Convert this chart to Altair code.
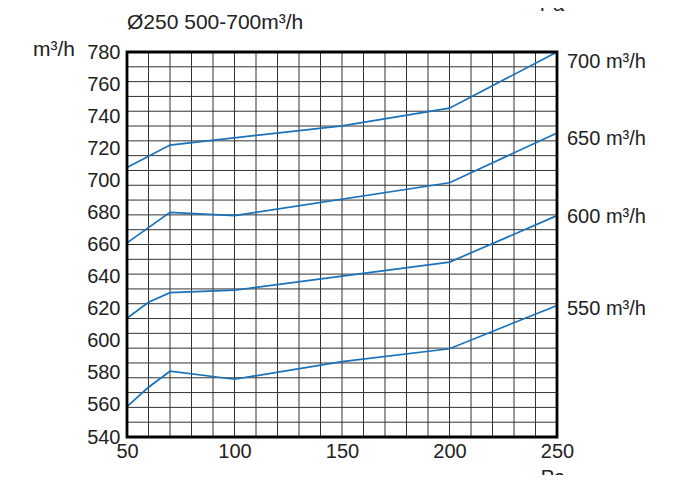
import altair as alt
import pandas as pd

# ---- data ----
p700 = [50, 70, 150, 200, 250]
q700 = [708, 722, 734, 745, 780]
p650 = [50, 70, 100, 200, 250]
q650 = [661, 680, 678, 698.5, 729.5]
p600 = [50, 60, 70, 100, 200, 250]
q600 = [614, 624, 630, 631.5, 649, 678]
p550 = [50, 60, 70, 100, 150, 200, 250]
q550 = [559, 571, 581, 576, 587, 595, 622]

series_names = ["700 m³/h", "650 m³/h", "600 m³/h", "550 m³/h"]
label_q = [774, 726, 677, 620]

x_ticks = [50, 100, 150, 200, 250]
y_ticks = [540, 560, 580, 600, 620, 640, 660, 680, 700, 720, 740, 760, 780]
v_grid = list(range(50, 251, 10))
h_grid = list(range(0, 27))  # the drawn grid has 26 rows

rows = []
for name, ps, qs in zip(series_names, [p700, p650, p600, p550], [q700, q650, q600, q550]):
    for p, q in zip(ps, qs):
        rows.append({"series": name, "pa": p, "q": q})
df = pd.DataFrame(rows)
labels_df = pd.DataFrame({"series": series_names, "pa": [250] * 4, "q": label_q})

FONT = "Liberation Sans"
W, H = 430, 385

xs = alt.Scale(domain=[50, 250], nice=False, zero=False)
ys = alt.Scale(domain=[540, 780], nice=False, zero=False)

x_axis = alt.Axis(values=x_ticks, grid=False, ticks=False, domain=False, labelFlush=False,
                  labelFont=FONT, labelFontSize=20, labelColor="#222",
                  labelPadding=4, title=None)
y_axis = alt.Axis(values=y_ticks, grid=False, ticks=False, domain=False, labelFlush=False,
                  labelFont=FONT, labelFontSize=20, labelColor="#222",
                  labelPadding=7, title=None)

vgrid = alt.Chart(pd.DataFrame({"pa": v_grid})).mark_rule(color="#333333", strokeWidth=1).encode(
    x=alt.X("pa:Q", scale=xs, axis=x_axis)
)
hgrid = alt.Chart(pd.DataFrame({"g": h_grid})).mark_rule(color="#333333", strokeWidth=1).encode(
    y=alt.Y("g:Q", scale=alt.Scale(domain=[0, 26], nice=False, zero=False), axis=None)
)

lines = alt.Chart(df).mark_line(color="#1a72bb", strokeWidth=1.7).encode(
    x=alt.X("pa:Q", scale=xs, axis=x_axis),
    y=alt.Y("q:Q", scale=ys, axis=y_axis),
    detail="series:N",
)

right_labels = alt.Chart(labels_df).mark_text(align="left", baseline="middle", dx=10,
                                               font=FONT, fontSize=20, color="#222").encode(
    x=alt.X("pa:Q", scale=xs, axis=x_axis),
    y=alt.Y("q:Q", scale=ys, axis=y_axis),
    text="series:N",
)

data_layer = alt.layer(vgrid, lines, right_labels)

frame = alt.Chart(pd.DataFrame({"k": [0]})).mark_rect(
    fill=None, fillOpacity=0, stroke="black", strokeWidth=2.8
).encode(x=alt.value(0), x2=alt.value(W), y=alt.value(0), y2=alt.value(H))

def note(txt, x, y, size=20, align="left"):
    return alt.Chart(pd.DataFrame({"t": [txt]})).mark_text(
        align=align, baseline="middle", font=FONT, fontSize=size, color="#222"
    ).encode(x=alt.value(x), y=alt.value(y), text="t:N")

title = note("Ø250 500-700m³/h", 0, -29, size=21)
yunit = note("m³/h", -94, -2, size=21)
pa_top = note("Pa", 425, -47, align="center")
pa_bot = note("Pa", 426, 426, align="center")

chart = alt.layer(
    hgrid, data_layer, frame, title, yunit, pa_top, pa_bot
).resolve_scale(y="independent").properties(
    width=W, height=H,
    autosize=alt.AutoSizeParams(type="none"),
    padding={"left": 119, "top": 44, "right": 122, "bottom": 38},
).configure_view(stroke=None).configure(background="white")

chart.save("out.html", embed_options={"renderer": "svg", "actions": False})
